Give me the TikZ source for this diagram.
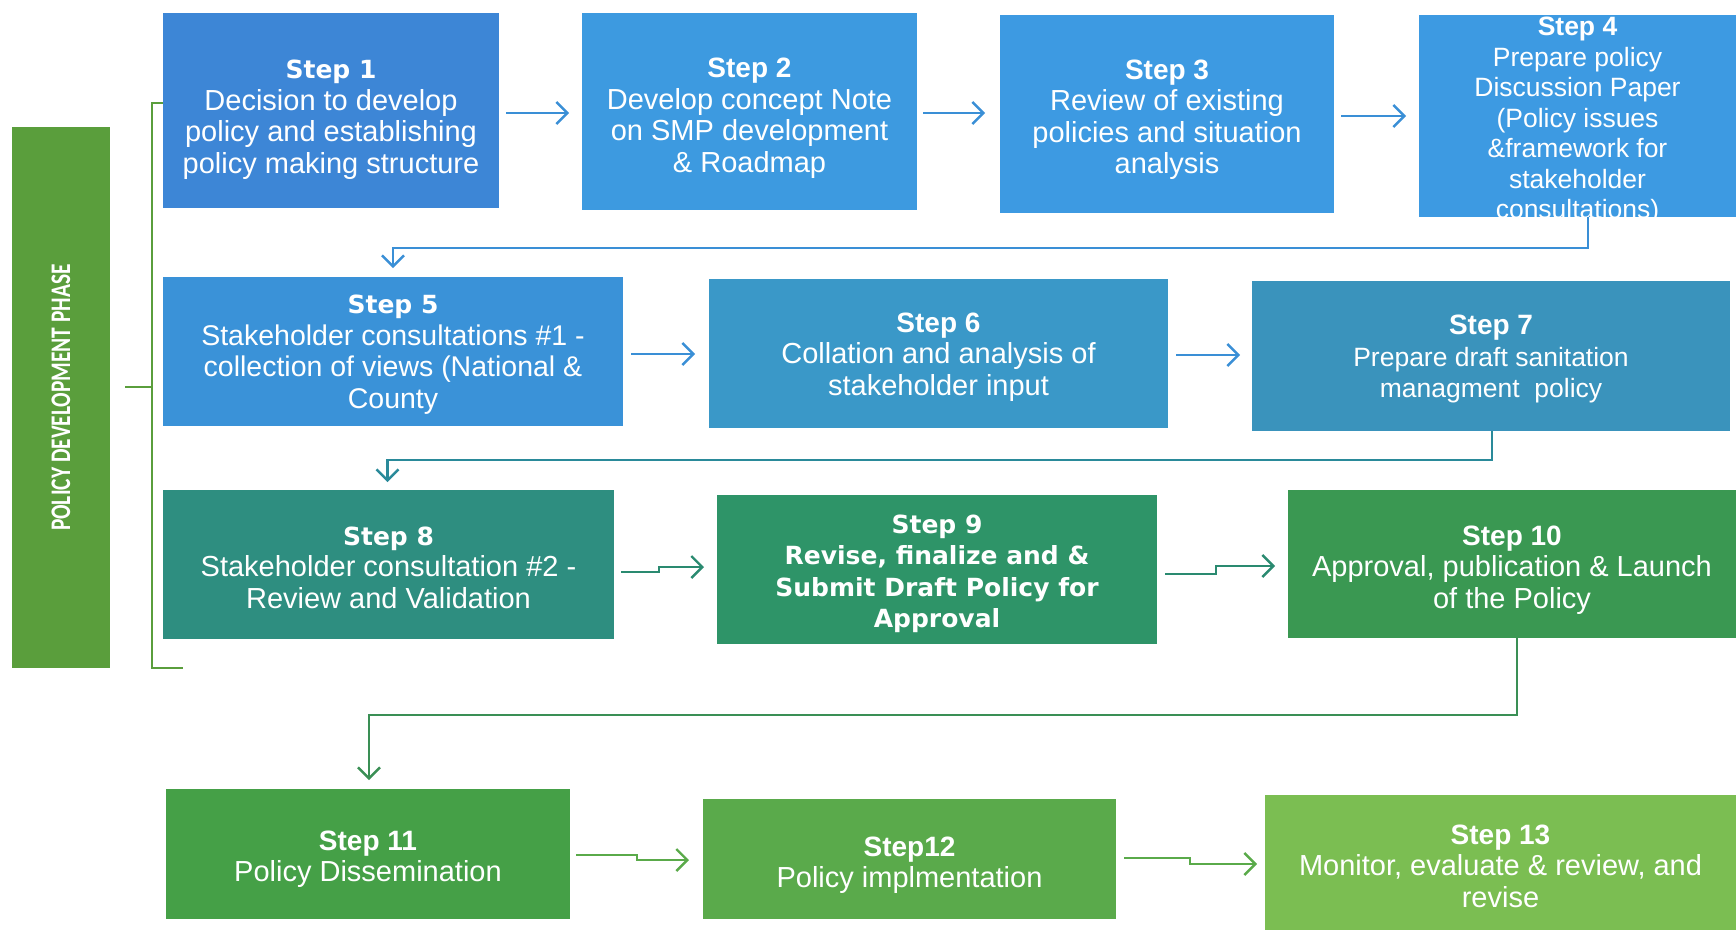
\documentclass[tikz,border=0pt]{standalone}
\usepackage{fontspec}
\usepackage{graphicx}
\setmainfont{Liberation Sans}
\newfontfamily\dvs{DejaVu Sans}
\newfontfamily\carl{Carlito}
\usetikzlibrary{arrows.meta,calc}

\definecolor{cA}{HTML}{3D86D6}
\definecolor{cB}{HTML}{3D9AE0}
\definecolor{cC}{HTML}{3D9AE2}
\definecolor{cE}{HTML}{3A92D8}
\definecolor{cF}{HTML}{3A98C8}
\definecolor{cG}{HTML}{3A93BC}
\definecolor{cH}{HTML}{2E8E80}
\definecolor{cI}{HTML}{2E9468}
\definecolor{cJ}{HTML}{3A9852}
\definecolor{cK}{HTML}{45A047}
\definecolor{cL}{HTML}{5AAA4B}
\definecolor{cM}{HTML}{7BBE52}
\definecolor{phase}{HTML}{5A9E3C}
\definecolor{lnBlue}{HTML}{3A8FD6}
\definecolor{lnTeal}{HTML}{2A8A9A}
\definecolor{lnSea}{HTML}{2A8A70}
\definecolor{lnGreen}{HTML}{3A8F55}
\definecolor{lnLeaf}{HTML}{5AAA4A}

% headings: Arial-like bold, or a wider bold face
\newcommand{\hd}[1]{{\bfseries\fontsize{28}{31.5}\selectfont #1}}
\newcommand{\hdv}[1]{{\dvs\bfseries\fontsize{25}{31.5}\selectfont #1}}
% centred block of lines, lowered a little inside its box (reported size kept)
\newcommand{\tx}[2][5]{\raisebox{-#1pt}[\height][\depth]{\begin{tabular}{@{}c@{}}#2\end{tabular}}}

\begin{document}
\begin{tikzpicture}[x=1pt,y=-1pt,
  stepbox/.style={inner sep=0pt, outer sep=0pt, text=white,
    font=\fontsize{29}{31.5}\selectfont},
  conn/.style={line width=2.4pt, -{Straight Barb[length=11pt,width=22pt,line width=2.4pt]}},
  brk/.style={draw=phase, line width=2.2pt}
]
\useasboundingbox (0,0) rectangle (1736,930);

% phase label (rotated, so width runs along the text)
\node[fill=phase, minimum width=541pt, minimum height=98pt, inner sep=0pt,
      text=white, rotate=90] (lab) at (61,397.5)
  {\scalebox{1.02}[1.35]{\carl\bfseries\fontsize{21}{21}\selectfont POLICY DEVELOPMENT PHASE}};

% bracket
\coordinate (bt) at (177,103);
\coordinate (bb) at (183,668);
\draw[brk] (bt) -- (152,103) -- (152,668) -- (bb);
\draw[brk] ($(lab.center)+(64,-10.5)$) -- ++(27,0);

% row 1
\node[stepbox, fill=cA, minimum width=336pt, minimum height=195pt] (s1) at (331,110.5)
  {\tx[9]{\hdv{Step 1}\\Decision to develop\\policy and establishing\\policy making structure}};
\node[stepbox, fill=cB, minimum width=335pt, minimum height=197pt] (s2) at (749.5,111.5)
  {\tx[7]{\hd{Step 2}\\Develop concept Note\\on SMP development\\\& Roadmap}};
\node[stepbox, fill=cC, minimum width=334pt, minimum height=198pt] (s3) at (1167,114)
  {\tx[6]{\hd{Step 3}\\Review of existing\\policies and situation\\analysis}};
\node[stepbox, fill=cC, minimum width=317pt, minimum height=202pt] (s4) at (1577.5,116) {};
\node[stepbox, font=\fontsize{26.5}{30.5}\selectfont] (t4) at (1577.5,120)
  {\tx[1]{{\bfseries Step 4}\\Prepare policy\\Discussion Paper\\(Policy issues\\\&framework for\\stakeholder\\consultations)}};

% row 2
\node[stepbox, fill=cE, minimum width=460pt, minimum height=149pt,
      font=\fontsize{28.5}{31.5}\selectfont] (s5) at (393,351.5)
  {\tx[3]{\hdv{Step 5}\\Stakeholder consultations \#1 -\\collection of views (National \&\\County}};
\node[stepbox, fill=cF, minimum width=459pt, minimum height=149pt] (s6) at (938.5,353.5)
  {\tx[4]{\hd{Step 6}\\Collation and analysis of\\stakeholder input}};
\node[stepbox, fill=cG, minimum width=478pt, minimum height=150pt,
      font=\fontsize{26.5}{31.5}\selectfont] (s7) at (1491,356)
  {\tx[4]{\hd{Step 7}\\Prepare draft sanitation\\managment\ \ policy}};

% row 3
\node[stepbox, fill=cH, minimum width=451pt, minimum height=149pt] (s8) at (388.5,564.5)
  {\tx[6]{\hdv{Step 8}\\Stakeholder consultation \#2 -\\Review and Validation}};
\node[stepbox, fill=cI, minimum width=440pt, minimum height=149pt,
      font=\dvs\bfseries\fontsize{25}{31.5}\selectfont] (s9) at (937,569.5)
  {\tx[4.5]{\hdv{Step 9}\\Revise, finalize and \&\\Submit Draft Policy for\\Approval}};
\node[stepbox, fill=cJ, minimum width=448pt, minimum height=148pt] (s10) at (1512,564)
  {\tx[6.5]{\hd{Step 10}\\Approval, publication \& Launch\\of the Policy}};

% row 4
\node[stepbox, fill=cK, minimum width=404pt, minimum height=130pt] (s11) at (368,854)
  {\tx[5.5]{\hd{Step 11}\\Policy Dissemination}};
\node[stepbox, fill=cL, minimum width=413pt, minimum height=120pt] (s12) at (909.5,859)
  {\tx[6.5]{\hd{Step12}\\Policy implmentation}};
\node[stepbox, fill=cM, minimum width=471pt, minimum height=135pt] (s13) at (1500.5,862.5)
  {\tx[7]{\hd{Step 13}\\Monitor, evaluate \& review, and\\revise}};

% connectors, row 1
\draw[conn, draw=lnBlue] ($(s1.east)+(7,2.5)$) -- ($(s2.west)+(-13,1.5)$);
\draw[conn, draw=lnBlue] ($(s2.east)+(6,1.5)$) -- ($(s3.west)+(-15,-1)$);
\draw[conn, draw=lnBlue] ($(s3.east)+(7,2)$) -- ($(s4.west)+(-13,0)$);
\draw[conn, draw=lnBlue] ($(s4.south)+(10.5,0)$) |- ($(s5.north)+(0,-29)$) -- ($(s5.north)+(0,-9)$);

% connectors, row 2
\draw[conn, draw=lnBlue] ($(s5.east)+(8,2.5)$) -- ($(s6.west)+(-14,0.5)$);
\draw[conn, draw=lnBlue] ($(s6.east)+(8,1.5)$) -- ($(s7.west)+(-12,-1)$);
\draw[conn, draw=lnTeal] ($(s7.south)+(1,0)$) |- ($(s8.north)+(-1,-30)$) -- ($(s8.north)+(-1,-8)$);

% connectors, row 3
\draw[conn, draw=lnSea] ($(s8.east)+(7,7.5)$) -- ++(38,0) -- ++(0,-5) -- ($(s9.west)+(-13,-2.5)$);
\draw[conn, draw=lnSea] ($(s9.east)+(8,4.5)$) -- ++(51,0) -- ++(0,-8) -- ($(s10.west)+(-13,2)$);
\draw[conn, draw=lnGreen] ($(s10.south)+(5,0)$) |- ($(s11.north)+(1,-74)$) -- ($(s11.north)+(1,-9)$);

% connectors, row 4
\draw[conn, draw=lnLeaf] ($(s11.east)+(6,1)$) -- ++(61,0) -- ++(0,5) -- ($(s12.west)+(-14,1)$);
\draw[conn, draw=lnLeaf] ($(s12.east)+(8,-1)$) -- ++(66,0) -- ++(0,6) -- ($(s13.west)+(-8,1.5)$);
\end{tikzpicture}
\end{document}
